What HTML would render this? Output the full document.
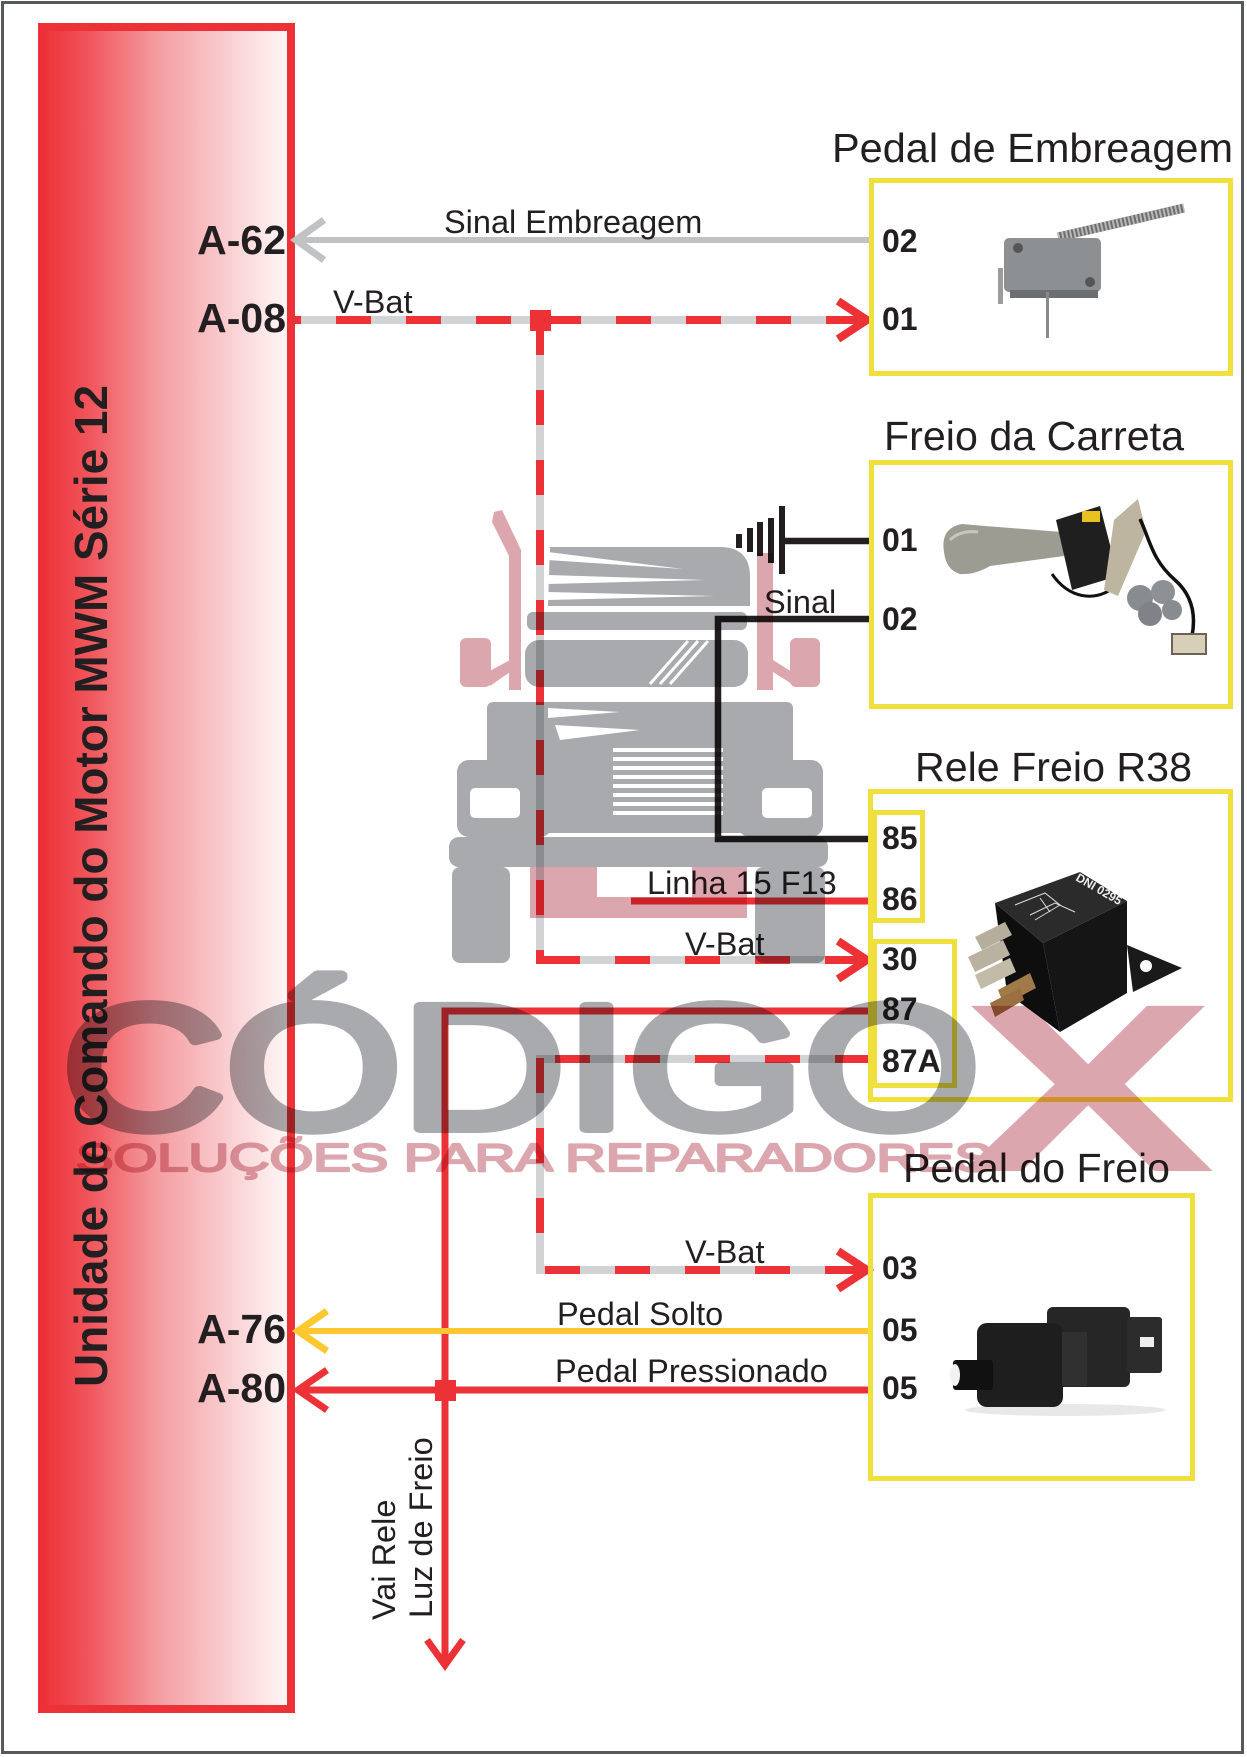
<!DOCTYPE html>
<html>
<head>
<meta charset="utf-8">
<style>
  html,body{margin:0;padding:0;background:#fff;}
  svg{display:block;}
  .lbl{font-family:"Liberation Sans",Arial,sans-serif;font-size:32.5px;fill:#231f20;}
  .pin{font-family:"Liberation Sans",Arial,sans-serif;font-size:32px;font-weight:bold;fill:#231f20;}
  .ecu{font-family:"Liberation Sans",Arial,sans-serif;font-size:41px;font-weight:bold;fill:#231f20;}
  .ttl{font-family:"Liberation Sans",Arial,sans-serif;font-size:41px;fill:#231f20;}
</style>
</head>
<body>
<svg width="1247" height="1757" viewBox="0 0 1247 1757" xmlns="http://www.w3.org/2000/svg">
  <defs>
    <linearGradient id="ecug" x1="0" y1="0" x2="1" y2="0">
      <stop offset="0" stop-color="#ee3037"/>
      <stop offset="0.2" stop-color="#f0585e"/>
      <stop offset="0.46" stop-color="#f49ca0"/>
      <stop offset="0.79" stop-color="#fad6d8"/>
      <stop offset="1" stop-color="#fff8f8"/>
    </linearGradient>
  </defs>

  <rect x="0" y="0" width="1247" height="1757" fill="#fff"/>
  <!-- outer frame -->
  <rect x="2.5" y="2.5" width="1240" height="1750" fill="none" stroke="#58595b" stroke-width="3"/>

  <!-- ECU box -->
  <rect x="42" y="27" width="249" height="1682" fill="url(#ecug)" stroke="#ed3237" stroke-width="8"/>
  <text transform="translate(107,1387) rotate(-90)" font-family="Liberation Sans, Arial, sans-serif" font-size="46" font-weight="bold" fill="#231f20" textLength="1002" lengthAdjust="spacingAndGlyphs">Unidade de Comando do Motor MWM Série 12</text>

  <!-- ECU pin labels -->
  <text class="ecu" x="286" y="254" text-anchor="end">A-62</text>
  <text class="ecu" x="286" y="332" text-anchor="end">A-08</text>
  <text class="ecu" x="286" y="1343" text-anchor="end">A-76</text>
  <text class="ecu" x="286" y="1402" text-anchor="end">A-80</text>

  <!-- ===== Wires ===== -->
  <line x1="298" y1="240" x2="870" y2="240" stroke="#c1c2c4" stroke-width="6"/>
  <polyline points="324,220 296,240 324,260" fill="none" stroke="#c1c2c4" stroke-width="7"/>
  <text class="lbl" x="444" y="233">Sinal Embreagem</text>

  <line x1="295" y1="320" x2="866" y2="320" stroke="#d1d3d4" stroke-width="8"/>
  <line x1="295" y1="320" x2="866" y2="320" stroke="#ed3237" stroke-width="8" stroke-dasharray="35 35" stroke-dashoffset="29"/>
  <polyline points="838,301 867,320 838,339" fill="none" stroke="#ed3237" stroke-width="8"/>
  <text class="lbl" x="333" y="313">V-Bat</text>

  <line x1="540" y1="320" x2="540" y2="964" stroke="#d1d3d4" stroke-width="8"/>
  <line x1="540" y1="320" x2="540" y2="964" stroke="#ed3237" stroke-width="8" stroke-dasharray="35 35" stroke-dashoffset="0"/>
  <rect x="530" y="310" width="21" height="21" fill="#ed3237"/>

  <line x1="536" y1="960" x2="866" y2="960" stroke="#d1d3d4" stroke-width="8"/>
  <line x1="540" y1="960" x2="866" y2="960" stroke="#ed3237" stroke-width="8" stroke-dasharray="35 35" stroke-dashoffset="65"/>
  <rect x="536" y="956" width="9" height="8" fill="#ed3237"/>
  <polyline points="838,941 867,960 838,979" fill="none" stroke="#ed3237" stroke-width="8"/>
  <text class="lbl" x="685" y="955">V-Bat</text>

  <line x1="536" y1="1059" x2="870" y2="1059" stroke="#d1d3d4" stroke-width="8"/>
  <line x1="540" y1="1059" x2="870" y2="1059" stroke="#ed3237" stroke-width="8" stroke-dasharray="35 35" stroke-dashoffset="55"/>
  <line x1="540" y1="1055" x2="540" y2="1274" stroke="#d1d3d4" stroke-width="8"/>
  <line x1="540" y1="1055" x2="540" y2="1274" stroke="#ed3237" stroke-width="8" stroke-dasharray="35 35" stroke-dashoffset="-3"/>
  <line x1="536" y1="1270" x2="866" y2="1270" stroke="#d1d3d4" stroke-width="8"/>
  <line x1="540" y1="1270" x2="866" y2="1270" stroke="#ed3237" stroke-width="8" stroke-dasharray="35 35" stroke-dashoffset="65"/>
  <polyline points="838,1251 867,1270 838,1289" fill="none" stroke="#ed3237" stroke-width="8"/>
  <text class="lbl" x="685" y="1263">V-Bat</text>

  <!-- ground and black wires -->
  <line x1="782" y1="541" x2="870" y2="541" stroke="#231f20" stroke-width="6.5"/>
  <rect x="779" y="506" width="6" height="68" fill="#231f20"/>
  <rect x="768" y="518" width="6" height="45" fill="#231f20"/>
  <rect x="757" y="522" width="6" height="34" fill="#231f20"/>
  <rect x="747" y="528" width="6" height="24" fill="#231f20"/>
  <rect x="736" y="534" width="6" height="14" fill="#231f20"/>
  <polyline points="870,619 718,619 718,839 870,839" fill="none" stroke="#231f20" stroke-width="6.5"/>
  <text class="lbl" x="764" y="613">Sinal</text>

  <line x1="631" y1="901" x2="870" y2="901" stroke="#ed3237" stroke-width="7"/>
  <text class="lbl" x="647" y="894">Linha 15 F13</text>

  <polyline points="870,1011 445,1011 445,1664" fill="none" stroke="#ed3237" stroke-width="7"/>
  <polyline points="427,1640 445,1665 463,1640" fill="none" stroke="#ed3237" stroke-width="7"/>
  <text transform="translate(395,1620) rotate(-90)" class="lbl">Vai Rele</text>
  <text transform="translate(432,1618) rotate(-90)" class="lbl">Luz de Freio</text>

  <line x1="300" y1="1331" x2="870" y2="1331" stroke="#fdc82f" stroke-width="6"/>
  <polyline points="327,1311 298,1331 327,1351" fill="none" stroke="#fdc82f" stroke-width="7"/>
  <text class="lbl" x="557" y="1325">Pedal Solto</text>

  <line x1="300" y1="1390" x2="870" y2="1390" stroke="#ed3237" stroke-width="7"/>
  <polyline points="327,1370 298,1390 327,1410" fill="none" stroke="#ed3237" stroke-width="7"/>
  <rect x="435" y="1380" width="21" height="21" fill="#ed3237"/>
  <text class="lbl" x="555" y="1382">Pedal Pressionado</text>

  <!-- ===== Component boxes ===== -->
  <g fill="none" stroke="#f0e03c" stroke-width="5">
    <rect x="871.5" y="180.5" width="359" height="193"/>
    <rect x="871.5" y="462.5" width="359" height="244"/>
    <rect x="870.5" y="791.5" width="360" height="308"/>
    <rect x="874.5" y="812.5" width="48" height="108"/>
    <rect x="874.5" y="941.5" width="80" height="144"/>
    <rect x="870.5" y="1195.5" width="322" height="283"/>
  </g>

  <text class="ttl" x="832" y="162" textLength="401" lengthAdjust="spacingAndGlyphs">Pedal de Embreagem</text>
  <text class="ttl" x="884" y="450" textLength="300" lengthAdjust="spacingAndGlyphs">Freio da Carreta</text>
  <text class="ttl" x="915" y="781" textLength="277" lengthAdjust="spacingAndGlyphs">Rele Freio R38</text>
  <text class="ttl" x="903" y="1182" textLength="267" lengthAdjust="spacingAndGlyphs">Pedal do Freio</text>

  <text class="pin" x="882" y="252">02</text>
  <text class="pin" x="882" y="330">01</text>
  <text class="pin" x="882" y="551">01</text>
  <text class="pin" x="882" y="630">02</text>
  <text class="pin" x="882" y="849">85</text>
  <text class="pin" x="882" y="910">86</text>
  <text class="pin" x="882" y="970">30</text>
  <text class="pin" x="882" y="1020">87</text>
  <text class="pin" x="882" y="1072">87A</text>
  <text class="pin" x="882" y="1279">03</text>
  <text class="pin" x="882" y="1341">05</text>
  <text class="pin" x="882" y="1399">05</text>

  <!-- ===== Component pictures ===== -->
  <g>
    <line x1="1058" y1="237" x2="1184" y2="208" stroke="#6e6e6e" stroke-width="9"/>
    <line x1="1058" y1="237" x2="1184" y2="208" stroke="#b8b8b8" stroke-width="9" stroke-dasharray="2 2"/>
    <rect x="1004" y="238" width="97" height="54" rx="5" fill="#8c9092"/>
    <rect x="1010" y="290" width="88" height="8" fill="#6b6f71"/>
    <circle cx="1018" cy="248" r="5" fill="#555"/>
    <circle cx="1090" cy="282" r="5" fill="#555"/>
    <rect x="998" y="268" width="5" height="36" fill="#9c9c9c"/>
    <rect x="1046" y="292" width="3" height="46" fill="#8a8a8a"/>
  </g>

  <g>
    <path d="M1052,574 C1070,600 1095,600 1110,590" fill="none" stroke="#111" stroke-width="3"/>
    <path d="M944,552 Q940,528 962,524 L985,526 L1062,532 L1064,556 L990,566 Q975,575 960,574 Q946,570 944,552 Z" fill="#9d9c92"/>
    <path d="M950,540 Q960,530 978,532" fill="none" stroke="#c8c7bd" stroke-width="3"/>
    <polygon points="1056,520 1100,506 1118,576 1072,590" fill="#1f1f1f"/>
    <rect x="1082" y="511" width="18" height="11" fill="#e8c020"/>
    <polygon points="1114,520 1138,499 1146,531 1118,596 1104,590" fill="#bdb5a0"/>
    <circle cx="1140" cy="598" r="13" fill="#888c90"/>
    <circle cx="1163" cy="592" r="12" fill="#8d9196"/>
    <circle cx="1150" cy="614" r="12" fill="#7f8387"/>
    <circle cx="1172" cy="610" r="10" fill="#888c90"/>
    <path d="M1140,519 C1150,540 1152,560 1175,580 C1192,595 1196,615 1192,636" fill="none" stroke="#111" stroke-width="3.5"/>
    <rect x="1172" y="634" width="34" height="20" fill="#d8cfb8" stroke="#6b6456" stroke-width="2"/>
  </g>

  <g>
    <polygon points="995,903 1043,943 1060,1032 1007,993" fill="#0e0e0e"/>
    <polygon points="1043,943 1127,901 1127,993 1060,1032" fill="#151515"/>
    <polygon points="1127,945 1182,968 1133,992" fill="#1a1a1a"/>
    <circle cx="1146" cy="966" r="6" fill="#fff"/>
    <polygon points="995,903 1080,872 1127,901 1043,943" fill="#2b2b2b"/>
    <g stroke="#ddd" stroke-width="1" fill="none">
      <polyline points="1015,905 1045,893 1060,905 1035,920"/>
      <polyline points="1030,915 1055,903 1075,912"/>
      <line x1="1040" y1="898" x2="1050" y2="912"/>
    </g>
    <text transform="translate(1075,880) rotate(30)" font-family="Liberation Sans, Arial, sans-serif" font-size="12" font-weight="bold" fill="#eee">DNI 0295</text>
    <polygon points="975,937 1005,922 1012,935 982,950" fill="#b5ae9c"/>
    <polygon points="968,957 1003,940 1010,955 975,972" fill="#b9b2a0"/>
    <polygon points="975,975 1010,958 1016,972 981,989" fill="#c2bba8"/>
    <polygon points="998,990 1030,973 1036,988 1004,1005" fill="#a07a48"/>
    <polygon points="990,1003 1020,988 1024,1000 995,1017" fill="#9a7040"/>
  </g>

  <g>
    <ellipse cx="1065" cy="1410" rx="100" ry="6" fill="#e8e8e8"/>
    <rect x="1047" y="1307" width="83" height="80" rx="6" fill="#262626"/>
    <rect x="1127" y="1317" width="35" height="56" rx="3" fill="#2c2c2c"/>
    <rect x="1140" y="1337" width="14" height="10" fill="#eee"/>
    <rect x="977" y="1323" width="86" height="84" rx="10" fill="#1e1e1e"/>
    <rect x="1062" y="1332" width="25" height="54" fill="#303030"/>
    <rect x="953" y="1360" width="40" height="30" rx="3" fill="#111"/>
    <ellipse cx="955" cy="1375" rx="5" ry="11" fill="#f2f2f2"/>
  </g>

  <!-- ===== Watermark (multiply) ===== -->
  <g style="mix-blend-mode:multiply">
    <g fill="#a8aaad">
      <path d="M550,547 L720,547 Q750,547 750,577 L750,606 L548,606 Z"/>
      <rect x="527" y="612" width="220" height="18" rx="6"/>
      <rect x="525" y="640" width="223" height="47" rx="14"/>
      <rect x="487" y="702" width="306" height="131" rx="6"/>
      <rect x="457" y="760" width="95" height="77" rx="12"/>
      <rect x="738" y="760" width="85" height="77" rx="12"/>
      <rect x="449" y="837" width="379" height="30" rx="10"/>
      <rect x="452" y="867" width="58" height="96" rx="8"/>
      <rect x="755" y="867" width="70" height="96" rx="8"/>
      <text x="62" y="1128" font-family="Liberation Sans, Arial, sans-serif" font-size="176" stroke="#a8aaad" stroke-width="10" stroke-linejoin="round" textLength="918" lengthAdjust="spacingAndGlyphs">CÓDIGO</text>
    </g>
    <g fill="#fff">
      <polygon points="548,552 683,569 548,560"/>
      <polygon points="548,575 705,580 548,584"/>
      <polygon points="548,592 715,596 548,600"/>
      <rect x="470" y="788" width="50" height="30" rx="5"/>
      <rect x="762" y="788" width="50" height="30" rx="5"/>
      <rect x="613" y="748" width="110" height="4"/>
      <rect x="613" y="757" width="110" height="4"/>
      <rect x="613" y="766" width="110" height="4"/>
      <rect x="613" y="775" width="110" height="4"/>
      <rect x="613" y="784" width="110" height="4"/>
      <rect x="613" y="793" width="110" height="4"/>
      <rect x="613" y="802" width="110" height="4"/>
      <rect x="613" y="811" width="110" height="4"/>
      <polygon points="548,708 620,712 548,718"/>
      <polygon points="555,725 640,730 560,740"/>
    </g>
    <g stroke="#fff" stroke-width="3">
      <line x1="650" y1="684" x2="688" y2="641"/>
      <line x1="660" y1="684" x2="698" y2="641"/>
      <line x1="670" y1="684" x2="708" y2="641"/>
    </g>
    <g fill="#dca6ae">
      <polygon points="494,512 502,510 521,550 521,690 509,690 509,556 492,522"/>
      <rect x="757" y="553" width="16" height="137"/>
      <rect x="460" y="638" width="31" height="49" rx="6"/>
      <polygon points="488,672 510,660 510,672 490,686"/>
      <rect x="790" y="638" width="30" height="49" rx="6"/>
      <polygon points="773,660 792,672 792,684 773,672"/>
      <path d="M530,867 L597,867 L597,897 L692,897 L692,867 L747,867 L747,918 L530,918 Z"/>
      <text x="960" y="1171" font-family="Liberation Sans, Arial, sans-serif" font-size="240" font-weight="bold" textLength="256" lengthAdjust="spacingAndGlyphs">X</text>
      <text x="76" y="1171" font-family="Liberation Sans, Arial, sans-serif" font-size="39" stroke="#dca6ae" stroke-width="2.2" stroke-linejoin="round" textLength="916" lengthAdjust="spacingAndGlyphs">SOLUÇÕES PARA REPARADORES</text>
    </g>
  </g>
</svg>
</body>
</html>
